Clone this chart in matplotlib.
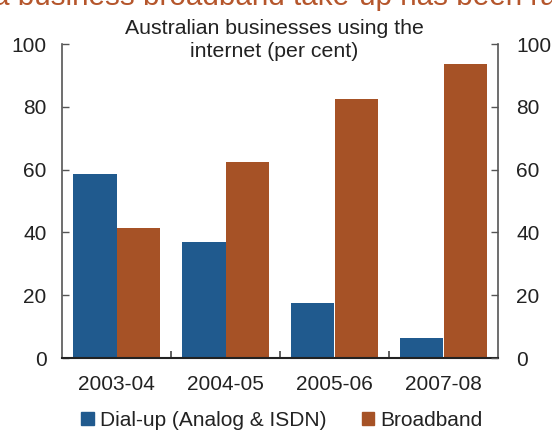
import matplotlib
matplotlib.use("Agg")
import matplotlib.pyplot as plt
import numpy as np
from matplotlib.patches import Patch

categories = ["2003-04", "2004-05", "2005-06", "2007-08"]
dialup = [58.5, 37.0, 17.5, 6.5]
broadband = [41.5, 62.5, 82.5, 93.5]
series_names = ["Dial-up (Analog & ISDN)", "Broadband"]
yticks = [0, 20, 40, 60, 80, 100]
title = "Australian businesses using the\ninternet (per cent)"
top_text = "a business broadband take-up has been ra"

plt.rcParams["font.family"] = ["Liberation Sans", "DejaVu Sans"]
BLUE = "#205a8e"
ORANGE = "#a65226"
SPINE = "#555555"
TXT = "#222222"

fig = plt.figure(figsize=(5.52, 4.32), dpi=100)
ax = fig.add_axes([62/552, 1-358/432, (498-62)/552, (358-44)/432])

x = np.arange(len(categories))
w = 0.4
ax.bar(x - w/2, dialup, width=w, color=BLUE, label=series_names[0])
ax.bar(x + w/2, broadband, width=w, color=ORANGE, label=series_names[1])

ax.set_xlim(-0.5, len(categories) - 0.5)
ax.set_ylim(0, 100)
ax.set_yticks(yticks)
ax.tick_params(axis="y", direction="in", length=5, width=1, color=SPINE,
               labelsize=15, labelcolor=TXT, pad=11)
ax.set_xticks(np.arange(len(categories) - 1) + 0.5)
ax.set_xticklabels([])
ax.set_xticks(x, minor=True)
ax.set_xticklabels(categories, minor=True)
ax.tick_params(axis="x", which="major", direction="in", length=5, width=1.2, color="#444444")
ax.tick_params(axis="x", which="minor", length=0, labelsize=15, labelcolor=TXT, pad=12)
for s in ["left", "right"]:
    ax.spines[s].set_color(SPINE)
    ax.spines[s].set_linewidth(1.2)
ax.spines["bottom"].set_color("#222222")
ax.spines["bottom"].set_linewidth(1.5)
ax.spines["top"].set_visible(False)

ax2 = ax.twinx()
ax2.set_ylim(0, 100)
ax2.set_yticks(yticks)
ax2.tick_params(axis="y", direction="in", length=5, width=1, color=SPINE,
                labelsize=15, labelcolor=TXT, pad=13)
for s in ["left", "right", "bottom", "top"]:
    ax2.spines[s].set_visible(False)

fig.text(274/552, 1-40/432, title, ha="center", va="center", fontsize=15.3,
         color=TXT, linespacing=1.3)
fig.text(-7/552, 1-5/432, top_text, ha="left", va="baseline", fontsize=21.3,
         color="#b5562c")

handles = [Patch(color=BLUE), Patch(color=ORANGE)]
fig.legend(handles, series_names, loc="center", bbox_to_anchor=(282/552, 1-420/432),
           ncol=2, frameon=False, fontsize=15, handlelength=0.6, handleheight=0.6,
           handletextpad=0.3, columnspacing=1.7, labelcolor=TXT, borderpad=0)

fig.savefig("out.png", dpi=100)
